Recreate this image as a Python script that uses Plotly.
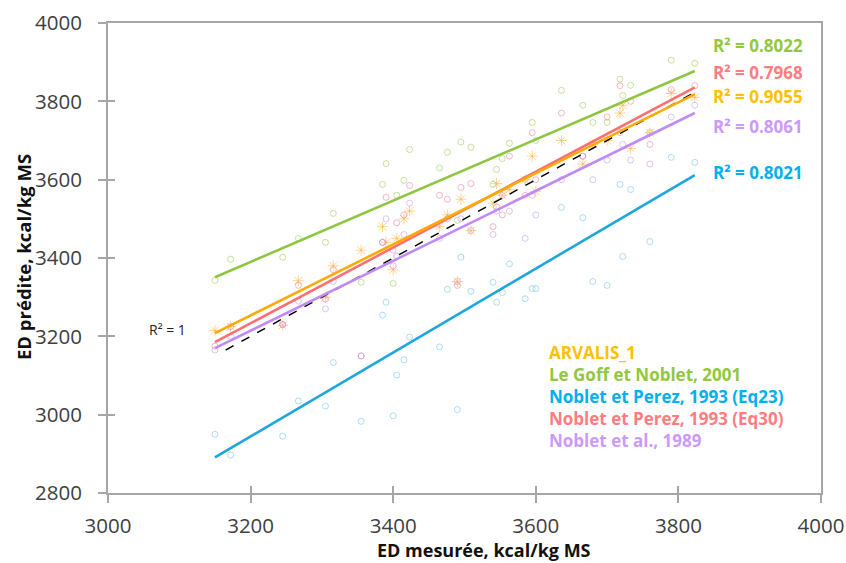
import plotly.graph_objects as go

# ---------------- data ----------------
ed_mesuree = [3150, 3172, 3245, 3267, 3305, 3316, 3355, 3385, 3390, 3400, 3405, 3415, 3423,
              3465, 3476, 3490, 3495, 3509, 3540, 3545, 3553, 3563, 3585, 3595, 3600, 3636,
              3666, 3680, 3700, 3718, 3722, 3733, 3760, 3790, 3823]

arvalis_1 = [3215, 3225, 3228, 3342, 3300, 3380, 3420, 3480, 3440, 3370, 3450, 3500, 3520,
             3480, 3510, 3340, 3550, 3470, 3540, 3590, 3560, 3575, 3600, 3660, 3570, 3700,
             3640, 3690, 3700, 3770, 3790, 3680, 3720, 3820, 3810]
le_goff_2001 = [3343, 3397, 3402, 3450, 3440, 3514, 3338, 3588, 3641, 3335, 3560, 3598, 3677,
                3630, 3670, 3496, 3696, 3683, 3588, 3626, 3654, 3693, 3601, 3746, 3700, 3828,
                3790, 3746, 3746, 3857, 3815, 3841, 3720, 3905, 3897]
noblet_perez_eq23 = [2950, 2897, 2945, 3035, 3022, 3133, 2983, 3254, 3287, 2997, 3101, 3140, 3198,
                     3173, 3320, 3013, 3402, 3315, 3338, 3287, 3312, 3385, 3296, 3322, 3322, 3529,
                     3503, 3340, 3330, 3588, 3404, 3575, 3442, 3657, 3644]
noblet_perez_eq30 = [3175, 3225, 3230, 3330, 3295, 3370, 3150, 3440, 3555, 3420, 3490, 3510, 3585,
                     3560, 3550, 3330, 3580, 3590, 3480, 3530, 3510, 3660, 3560, 3720, 3600, 3770,
                     3660, 3690, 3760, 3840, 3730, 3800, 3690, 3830, 3840]
noblet_1989 = [3165, 3200, 3230, 3290, 3270, 3340, 3150, 3440, 3500, 3380, 3405, 3460, 3540,
               3450, 3500, 3340, 3500, 3470, 3460, 3520, 3560, 3520, 3450, 3560, 3510, 3600,
               3660, 3600, 3650, 3720, 3690, 3650, 3640, 3760, 3790]

series_names = ["ARVALIS_1", "Le Goff et Noblet, 2001", "Noblet et Perez, 1993 (Eq23)",
                "Noblet et Perez, 1993 (Eq30)", "Noblet et al., 1989"]
series_values = [arvalis_1, le_goff_2001, noblet_perez_eq23, noblet_perez_eq30, noblet_1989]
trend_slope = [0.907, 0.782, 1.071, 0.967, 0.892]
trend_intercept = [351.0, 887.7, -482.7, 139.0, 360.0]
r2_values = ["0.9055", "0.8022", "0.8021", "0.7968", "0.8061"]
r2_label_y = [3813, 3943, 3619, 3874, 3736]

x_ticks = [3000, 3200, 3400, 3600, 3800, 4000]
y_ticks = [2800, 3000, 3200, 3400, 3600, 3800, 4000]
identity_range = [3165, 3825]

# ---------------- styles ----------------
marker_colors = ["#FFA928", "#8DC63F", "#5BBDE8", "#F0708A", "#B98BE8"]
line_colors = ["#FFAA00", "#8DC63F", "#1CA7DD", "#FF6F70", "#C08BF5"]
text_colors = ["#FFC000", "#92C83E", "#00B0F0", "#FF7C80", "#CC99FF"]
symbols = ["asterisk-open", "circle-open", "circle-open", "circle-open", "circle-open"]
TICK_FONT = "Open Sans"
BOLD_FONT = "Open Sans"

# plot box in window pixels (body margin removed by post_script)
WIN_W, WIN_H = 846, 563
plot_l, plot_r, plot_t, plot_b = 108, 821, 23, 493
pw, ph = plot_r - plot_l, plot_b - plot_t


def px_x(px):
    return (px - plot_l) / pw


def px_y(py):
    return (plot_b - py) / ph


fig = go.Figure()

# scatter points
for name, vals, mc, sym in zip(series_names, series_values, marker_colors, symbols):
    fig.add_trace(go.Scatter(
        x=ed_mesuree, y=vals, mode="markers", name=name, showlegend=False,
        marker=dict(symbol=sym, size=6 if sym == "circle-open" else 9,
                    color=mc, opacity=0.5, line=dict(width=1, color=mc)),
    ))

# identity dashed line
fig.add_trace(go.Scatter(
    x=identity_range, y=identity_range, mode="lines", showlegend=False,
    line=dict(color="black", width=1.5, dash="dash"),
))

# trendlines
xmin, xmax = min(ed_mesuree), max(ed_mesuree)
order = [2, 4, 3, 0, 1]
for i in order:
    fig.add_trace(go.Scatter(
        x=[xmin, xmax],
        y=[trend_intercept[i] + trend_slope[i] * xmin, trend_intercept[i] + trend_slope[i] * xmax],
        mode="lines", showlegend=False,
        line=dict(color=line_colors[i], width=2.6),
    ))

annotations = []
# R² labels
for i in range(len(series_names)):
    annotations.append(dict(
        x=3911, y=r2_label_y[i], xref="x", yref="y", showarrow=False,
        text="R² = " + r2_values[i], xanchor="center", yanchor="middle",
        font=dict(family=BOLD_FONT, size=17, color=text_colors[i], weight="bold"),
    ))
annotations.append(dict(
    x=3083, y=3218, xref="x", yref="y", showarrow=False, text="R² = 1",
    font=dict(family=TICK_FONT, size=14, color="#222"),
))
# legend-like labels (one block of coloured lines)
legend_text = "<br>".join(
    "<span style='color:%s'>%s</span>" % (c, n) for n, c in zip(series_names, text_colors)
)
annotations.append(dict(
    x=px_x(547), y=px_y(396), xref="paper", yref="paper", showarrow=False,
    text=legend_text, xanchor="left", yanchor="middle", align="left",
    font=dict(family=BOLD_FONT, size=17, color=text_colors[0], weight="bold"),
))
# axis titles
annotations.append(dict(
    x=px_x(484), y=px_y(550), xref="paper", yref="paper", showarrow=False,
    text="ED mesurée, kcal/kg MS", xanchor="center", yanchor="middle",
    font=dict(family=BOLD_FONT, size=18, color="#111", weight="bold"),
))
annotations.append(dict(
    x=px_x(23), y=px_y(257), xref="paper", yref="paper", showarrow=False,
    text="ED prédite, kcal/kg MS", xanchor="center", yanchor="middle", textangle=-90,
    font=dict(family=BOLD_FONT, size=18.5, color="#111", weight="bold"),
))

fig.update_layout(
    width=WIN_W, height=WIN_H,
    margin=dict(l=plot_l, r=WIN_W - plot_r, t=plot_t, b=WIN_H - plot_b, pad=0),
    paper_bgcolor="white", plot_bgcolor="white",
    annotations=annotations,
    xaxis=dict(
        range=[3000, 4000], tickvals=x_ticks, showgrid=False, zeroline=False,
        showline=True, linecolor="#A6A6A6", linewidth=2, mirror=True, automargin=False,
        ticks="outside", ticklen=8, tickcolor="#A6A6A6", tickwidth=1.5,
        ticklabelstandoff=5, ticklabeloverflow="allow",
        tickfont=dict(family=TICK_FONT, size=20.5, color="#404040"),
    ),
    yaxis=dict(
        range=[2800, 4000], tickvals=y_ticks, showgrid=False, zeroline=False,
        showline=True, linecolor="#A6A6A6", linewidth=2, mirror=True, automargin=False,
        ticks="outside", ticklen=8, tickcolor="#A6A6A6", tickwidth=1.5,
        ticklabelstandoff=12, ticklabeloverflow="allow",
        tickfont=dict(family=TICK_FONT, size=20.5, color="#404040"),
    ),
    xaxis2=dict(range=[3000, 4000], tickvals=x_ticks, overlaying="x", side="bottom",
                showticklabels=False, ticks="inside", ticklen=7, tickcolor="#A6A6A6",
                tickwidth=1.5, showgrid=False, zeroline=False, showline=False, automargin=False),
    yaxis2=dict(range=[2800, 4000], tickvals=y_ticks, overlaying="y", side="left",
                showticklabels=False, ticks="inside", ticklen=7, tickcolor="#A6A6A6",
                tickwidth=1.5, showgrid=False, zeroline=False, showline=False, automargin=False),
)
fig.add_trace(go.Scatter(x=[None], y=[None], xaxis="x2", yaxis="y2", showlegend=False,
                         hoverinfo="skip"))

fig.write_html("out.html",
               config={"displayModeBar": False},
               post_script="document.body.style.margin='0';"
                           "document.body.style.overflow='hidden';")
